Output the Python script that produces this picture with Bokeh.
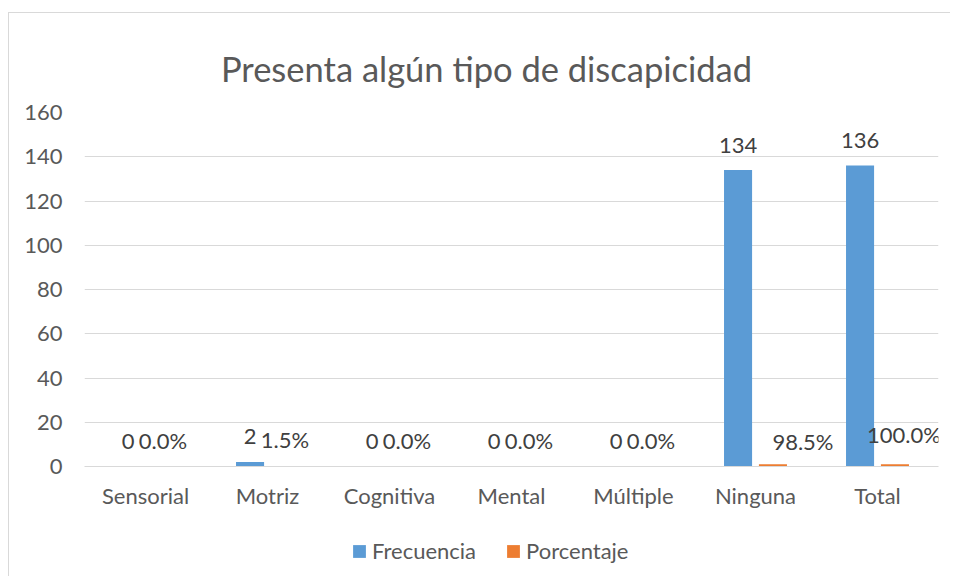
from bokeh.plotting import figure
from bokeh.layouts import column
from bokeh.models import ColumnDataSource, FactorRange, Range1d, LabelSet, Label, Legend, LegendItem
from bokeh.core.properties import value
from bokeh.transform import dodge
from bokeh.embed import file_html
from bokeh.resources import INLINE

title_text = "Presenta algún tipo de discapicidad"
categories = ["Sensorial", "Motriz", "Cognitiva", "Mental", "Múltiple", "Ninguna", "Total"]
frecuencia = [0, 2, 0, 0, 0, 134, 136]
porcentaje = [0.0, 1.5, 0.0, 0.0, 0.0, 98.5, 100.0]
y_ticks = [0, 20, 40, 60, 80, 100, 120, 140, 160]
series_names = ["Frecuencia", "Porcentaje"]

# label placement tweaks (screen px), kept apart from the data
freq_dx = [0, 0, 0, 0, 0, 0, 0]
freq_dy = [18, 18, 18, 18, 18, 17, 18]
pct_dx = [0, 0, 0, 0, 0, 30, 9]
pct_dy = [18, 18, 18, 18, 18, 14, 21]

BLUE = "#5B9BD5"
ORANGE = "#ED7D31"
FONT = "Lato"
FS = "22px"


def bare(fig):
    fig.outline_line_color = None
    fig.xgrid.grid_line_color = None
    fig.ygrid.grid_line_color = None
    return fig


src = ColumnDataSource(dict(
    cat=categories,
    frec=frecuencia,
    pct=[v / 100.0 for v in porcentaje],
    frec_lbl=[str(v) for v in frecuencia],
    pct_lbl=[f"{v:.1f}%" for v in porcentaje],
    fdx=freq_dx, fdy=freq_dy, pdx=pct_dx, pdy=pct_dy,
))

# ---- title strip
h = bare(figure(width=941, height=80, output_backend="svg", toolbar_location=None,
                x_axis_location=None, y_axis_location=None,
                min_border_left=0, min_border_right=0, min_border_top=0, min_border_bottom=0,
                x_range=Range1d(0, 1), y_range=Range1d(0, 1)))
h.add_layout(Label(x=402, y=25, x_units="screen", y_units="screen", text=title_text,
                   text_align="center", text_baseline="alphabetic",
                   text_font=FONT, text_font_size="34.5px", text_color="#595959"))

# ---- main chart
p = figure(
    x_range=FactorRange(*categories, range_padding=0),
    y_range=Range1d(0, 160),
    width=941, height=435,
    output_backend="svg", toolbar_location=None,
    min_border_left=75, min_border_right=12, min_border_top=19, min_border_bottom=62,
)

r1 = p.vbar(x=dodge("cat", -0.143, range=p.x_range), top="frec", width=0.23,
            source=src, fill_color=BLUE, line_color=None)
r2 = p.vbar(x=dodge("cat", 0.143, range=p.x_range), top="pct", width=0.23,
            source=src, fill_color=ORANGE, line_color=None)

p.add_layout(LabelSet(x=dodge("cat", -0.143, range=p.x_range), y="frec", text="frec_lbl",
                      x_offset="fdx", y_offset="fdy", source=src,
                      text_align="center", text_baseline="alphabetic",
                      text_font=value(FONT), text_font_size=value(FS), text_color="#404040"))
p.add_layout(LabelSet(x=dodge("cat", 0.143, range=p.x_range), y="pct", text="pct_lbl",
                      x_offset="pdx", y_offset="pdy", source=src,
                      text_align="center", text_baseline="alphabetic",
                      text_font=value(FONT), text_font_size=value(FS), text_color="#404040"))

p.yaxis.ticker = y_ticks
p.yaxis.axis_line_color = None
p.yaxis.major_tick_line_color = None
p.yaxis.minor_tick_line_color = None
p.yaxis.major_label_standoff = 16
p.yaxis.major_label_text_font = FONT
p.yaxis.major_label_text_font_size = FS
p.yaxis.major_label_text_color = "#595959"

p.xaxis.axis_line_color = "#d9d9d9"
p.xaxis.major_tick_line_color = None
p.xaxis.minor_tick_line_color = None
p.xaxis.major_label_standoff = 9
p.xaxis.major_label_text_font = FONT
p.xaxis.major_label_text_font_size = FS
p.xaxis.major_label_text_color = "#595959"

p.xgrid.grid_line_color = None
p.ygrid.grid_line_color = "#d9d9d9"
p.ygrid.grid_line_width = 1
p.outline_line_color = None

# ---- legend strip
q = bare(figure(width=941, height=48, output_backend="svg", toolbar_location=None,
                x_axis_location=None, y_axis_location=None,
                min_border_left=0, min_border_right=0, min_border_top=0, min_border_bottom=0,
                x_range=Range1d(0, 1), y_range=Range1d(0, 1)))
off = ColumnDataSource(dict(x=[-10], top=[-10]))  # outside the view: only the legend swatch shows
l1 = q.vbar(x="x", top="top", width=0.1, source=off, fill_color=BLUE, line_color=None)
l2 = q.vbar(x="x", top="top", width=0.1, source=off, fill_color=ORANGE, line_color=None)
legend = Legend(items=[LegendItem(label=series_names[0], renderers=[l1]),
                       LegendItem(label=series_names[1], renderers=[l2])],
                orientation="horizontal", location=(267, 12),
                glyph_width=16, glyph_height=16, label_standoff=5, spacing=29,
                label_text_font=FONT, label_text_font_size=FS, label_text_color="#595959",
                border_line_color=None, background_fill_alpha=0, margin=0, padding=0)
q.add_layout(legend, "center")

layout = column(h, p, q, spacing=0)
layout.styles = {"margin-left": "8px", "margin-top": "12px",
                 "border-left": "1px solid #d9d9d9", "border-top": "1px solid #d9d9d9"}

open("out.html", "w").write(file_html(layout, INLINE))
